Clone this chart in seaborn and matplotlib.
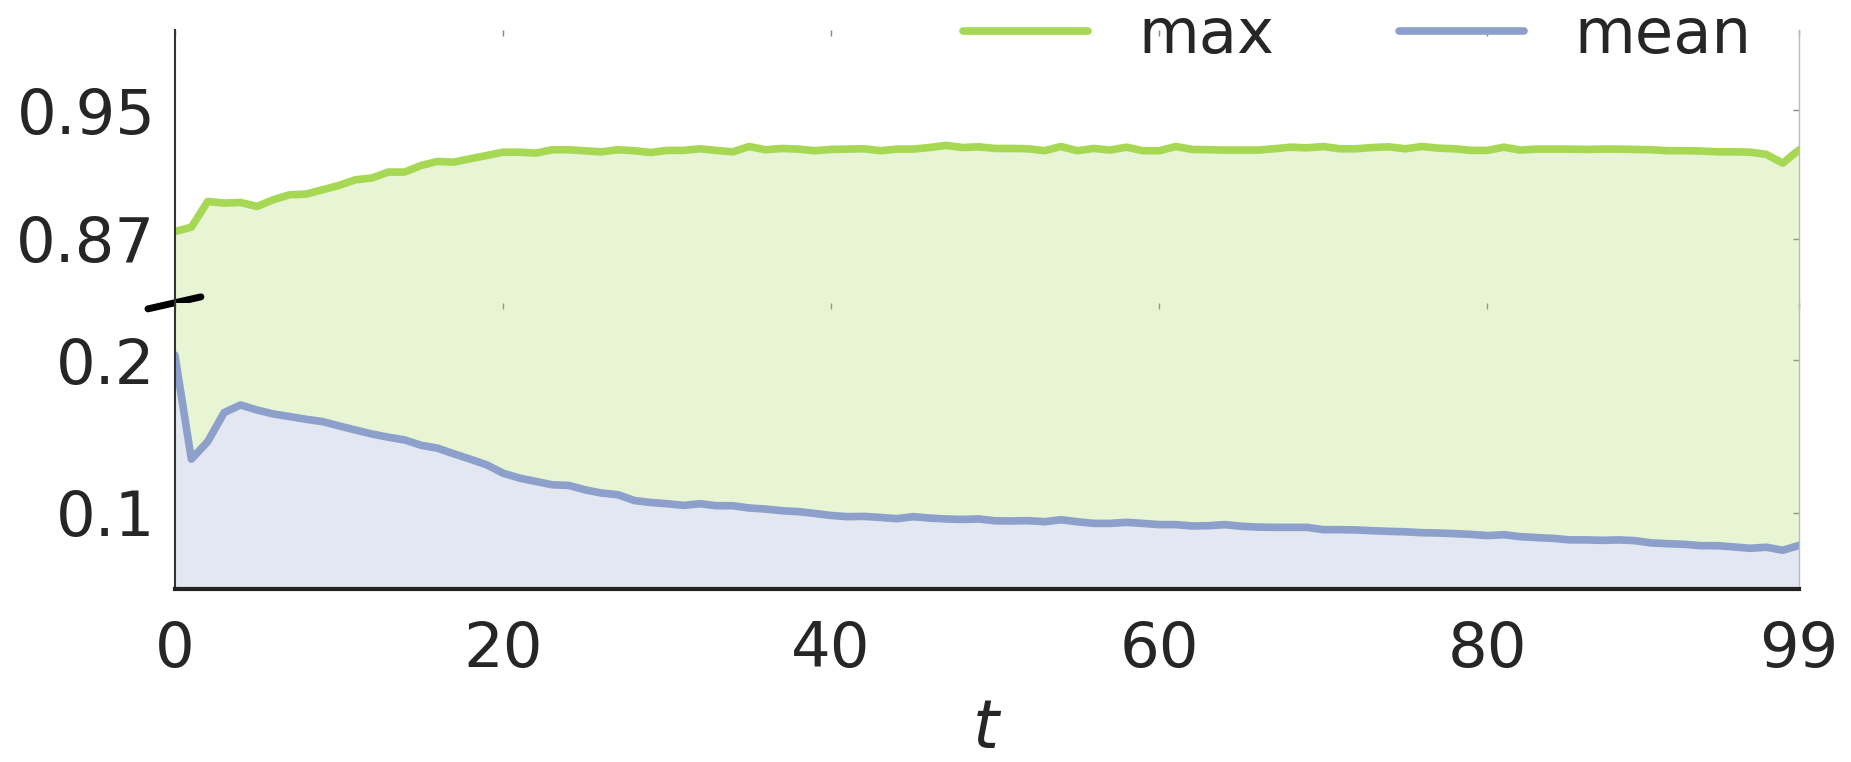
import matplotlib
matplotlib.use("Agg")
import matplotlib.pyplot as plt
import numpy as np
import pandas as pd
import seaborn as sns
from matplotlib.lines import Line2D

# per-step values (t = 0..99)
t_steps = list(range(100))
max_vals = [
    0.8744, 0.8771, 0.8931, 0.8921, 0.8925, 0.8900, 0.8942, 0.8973, 0.8977, 0.9004,
    0.9031, 0.9066, 0.9077, 0.9114, 0.9114, 0.9155, 0.9180, 0.9176, 0.9197, 0.9217,
    0.9238, 0.9238, 0.9232, 0.9253, 0.9253, 0.9246, 0.9240, 0.9253, 0.9247, 0.9236,
    0.9249, 0.9249, 0.9259, 0.9249, 0.9240, 0.9273, 0.9253, 0.9261, 0.9257, 0.9247,
    0.9255, 0.9257, 0.9259, 0.9247, 0.9257, 0.9257, 0.9267, 0.9280, 0.9267, 0.9271,
    0.9261, 0.9261, 0.9259, 0.9247, 0.9273, 0.9247, 0.9261, 0.9251, 0.9269, 0.9247,
    0.9247, 0.9273, 0.9255, 0.9253, 0.9251, 0.9251, 0.9251, 0.9259, 0.9269, 0.9265,
    0.9273, 0.9259, 0.9259, 0.9267, 0.9271, 0.9259, 0.9273, 0.9263, 0.9259, 0.9249,
    0.9249, 0.9269, 0.9251, 0.9257, 0.9257, 0.9257, 0.9255, 0.9257, 0.9257, 0.9255,
    0.9253, 0.9247, 0.9247, 0.9245, 0.9240, 0.9240, 0.9238, 0.9224, 0.9170, 0.9253,
]
mean_vals = [
    0.2033, 0.1351, 0.1466, 0.1656, 0.1706, 0.1673, 0.1647, 0.1630, 0.1612, 0.1597,
    0.1569, 0.1542, 0.1516, 0.1495, 0.1477, 0.1442, 0.1423, 0.1386, 0.1351, 0.1314,
    0.1259, 0.1227, 0.1205, 0.1183, 0.1179, 0.1150, 0.1129, 0.1118, 0.1080, 0.1067,
    0.1059, 0.1048, 0.1059, 0.1046, 0.1046, 0.1031, 0.1024, 0.1013, 0.1007, 0.0995,
    0.0982, 0.0974, 0.0976, 0.0969, 0.0961, 0.0974, 0.0965, 0.0959, 0.0956, 0.0959,
    0.0947, 0.0946, 0.0948, 0.0941, 0.0954, 0.0941, 0.0930, 0.0930, 0.0937, 0.0930,
    0.0922, 0.0922, 0.0913, 0.0915, 0.0922, 0.0911, 0.0906, 0.0904, 0.0904, 0.0904,
    0.0889, 0.0889, 0.0887, 0.0882, 0.0878, 0.0875, 0.0869, 0.0867, 0.0863, 0.0858,
    0.0850, 0.0856, 0.0843, 0.0837, 0.0832, 0.0822, 0.0822, 0.0819, 0.0822, 0.0817,
    0.0802, 0.0797, 0.0793, 0.0784, 0.0784, 0.0776, 0.0767, 0.0774, 0.0754, 0.0786,
]
series_names = ["max", "mean"]
x_ticks = [0, 20, 40, 60, 80, 99]
top_yticks = [0.87, 0.95]
bottom_yticks = [0.1, 0.2]

sns.set_theme(style="white")
plt.rcParams["font.family"] = ["DejaVu Sans"]

GREEN = "#a6d854"
BLUE = "#8da0cb"
LW = 5.5

df = pd.DataFrame({"t": t_steps, "max": max_vals, "mean": mean_vals})
long_df = df.melt(id_vars="t", value_vars=series_names, var_name="series", value_name="value")

fig = plt.figure(figsize=(18.51, 7.62), dpi=100)
gs = fig.add_gridspec(2, 1, height_ratios=[273, 286], hspace=0.0,
                      left=0.0945, right=0.972, top=0.961, bottom=0.227)
ax_top = fig.add_subplot(gs[0])
ax_bot = fig.add_subplot(gs[1], sharex=ax_top)

t = np.array(t_steps)
for ax in (ax_top, ax_bot):
    ax.fill_between(t, df["mean"], df["max"], color=GREEN, alpha=0.25, lw=0)
    ax.fill_between(t, 0, df["mean"], color=BLUE, alpha=0.25, lw=0)
    sns.lineplot(data=long_df, x="t", y="value", hue="series",
                 palette={"max": GREEN, "mean": BLUE}, linewidth=LW, ax=ax, legend=False)
    ax.set_xlim(0, 99)
    ax.set_ylabel("")
    ax.tick_params(axis="both", which="both", direction="in", length=4, width=1,
                   color="#888888", top=True, right=True, labelsize=45, labelcolor="#262626")
    ax.spines["top"].set_visible(False)
    ax.spines["right"].set_color("#bbbbbb")
    ax.spines["right"].set_linewidth(1.0)
    ax.spines["left"].set_color("#333333")
    ax.spines["left"].set_linewidth(1.5)

ax_top.set_ylim(0.83, 1.0)
ax_top.set_yticks(top_yticks)
ax_top.set_yticklabels([f"{v:g}" for v in top_yticks])
ax_top.spines["bottom"].set_visible(False)
ax_top.tick_params(axis="x", labelbottom=False)
ax_top.set_xlabel("")

ax_bot.set_ylim(0.05, 0.2375)
ax_bot.set_yticks(bottom_yticks)
ax_bot.set_yticklabels([f"{v:g}" for v in bottom_yticks])
ax_bot.set_xticks(x_ticks)
ax_bot.set_xticklabels([str(v) for v in x_ticks])
ax_bot.spines["bottom"].set_color("#222222")
ax_bot.spines["bottom"].set_linewidth(3)
ax_bot.tick_params(axis="x", pad=22)
ax_bot.set_xlabel(r"$t$", fontsize=48, labelpad=12)
for ax in (ax_top, ax_bot):
    ax.tick_params(axis="y", pad=14)

# break mark on the left spine
ax_top.add_line(Line2D([-0.0166, 0.016], [-0.022, 0.022], transform=ax_top.transAxes,
                       color="black", lw=5, clip_on=False, solid_capstyle="round"))

handles = [Line2D([], [], color=GREEN, lw=LW, solid_capstyle="round"),
           Line2D([], [], color=BLUE, lw=LW, solid_capstyle="round")]
fig.legend(handles, series_names, loc="center", bbox_to_anchor=(0.7331, 0.9526),
           ncol=2, frameon=False, fontsize=45, handlelength=2.0, handletextpad=0.8,
           columnspacing=2.0, borderpad=0)

fig.savefig("out.png", dpi=100)
